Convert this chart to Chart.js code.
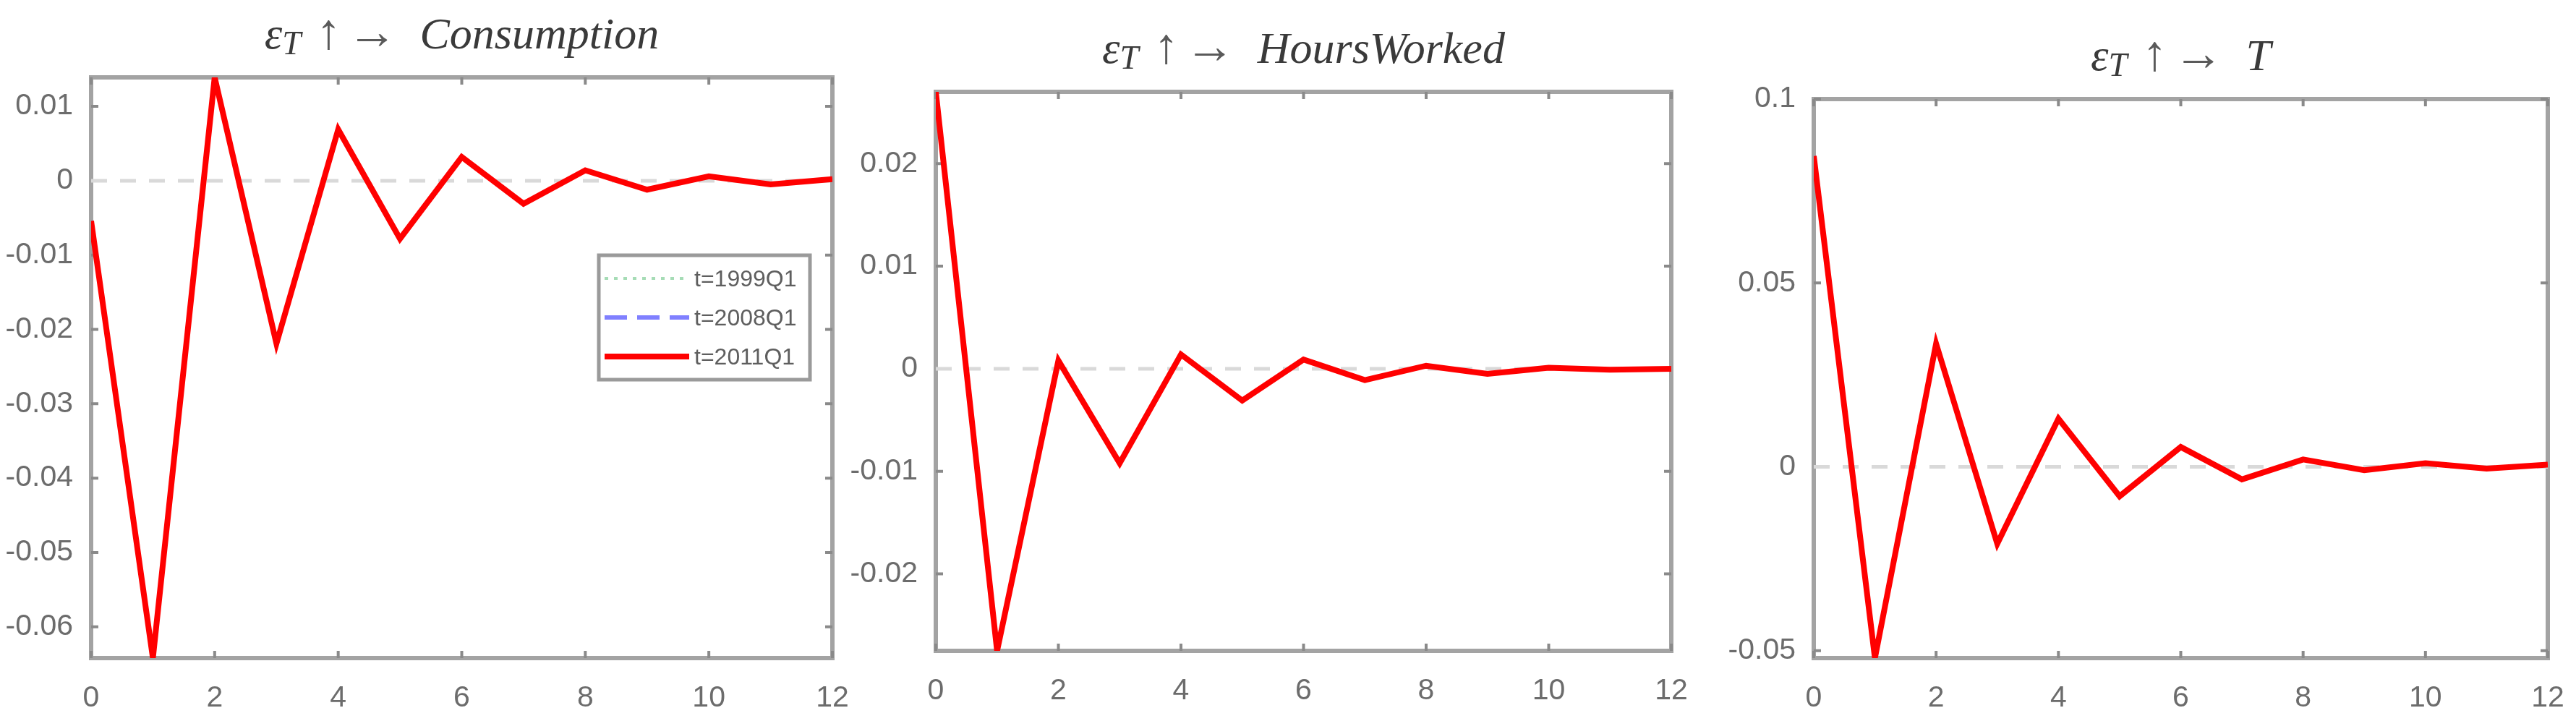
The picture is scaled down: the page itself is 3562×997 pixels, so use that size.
<!DOCTYPE html>
<html>
<head>
<meta charset="utf-8">
<script src="https://cdn.jsdelivr.net/npm/chart.js@4.4.0/dist/chart.umd.min.js"></script>
<style>
  html, body { margin: 0; padding: 0; background: #fff; }
  #page { position: relative; width: 3562px; height: 997px; overflow: hidden; background: #fff; }
  #page canvas { position: absolute; top: 0; }
  .title {
    position: absolute; white-space: nowrap;
    font-family: "Liberation Serif", "DejaVu Serif", serif;
    font-size: 62px; line-height: 62px; color: #3a3a3a;
    transform: translateX(-50%);
  }
  .title .eps { font-style: italic; }
  .title sub { font-size: 0.75em; font-style: italic; vertical-align: -0.18em; line-height: 0; }
  .title .arr { color: #5a5a5a; font-size: 1.12em; line-height: 0; }
  .title .up { margin-left: 0.3em; }
  .title .right { margin-left: 0.12em; }
  .title .name { font-style: italic; margin-left: 0.5em; }
</style>
</head>
<body>
<div id="page">
  <canvas id="c1" width="1200" height="997" style="left:0px"></canvas>
  <canvas id="c2" width="1220" height="997" style="left:1160px"></canvas>
  <canvas id="c3" width="1192" height="997" style="left:2370px"></canvas>
  <div class="title" id="t1"><span class="eps">ε<sub>T</sub></span><span class="arr up">↑</span><span class="arr right">→</span><span class="name">Consumption</span></div>
  <div class="title" id="t2"><span class="eps">ε<sub>T</sub></span><span class="arr up">↑</span><span class="arr right">→</span><span class="name">HoursWorked</span></div>
  <div class="title" id="t3"><span class="eps">ε<sub>T</sub></span><span class="arr up">↑</span><span class="arr right">→</span><span class="name">T</span></div>
</div>
<script>
// quarters after the shock
const horizon           = [0, 1, 2, 3, 4, 5, 6, 7, 8, 9, 10, 11, 12];
const horizonTicks      = [0, 2, 4, 6, 8, 10, 12];
const horizonTickLabels = ["0", "2", "4", "6", "8", "10", "12"];

const seriesLabels = ["t=1999Q1", "t=2008Q1", "t=2011Q1"];

// responses (the three vintages lie on top of each other in the figure)
const consumption           = [-0.0054, -0.0642, 0.0139, -0.0219, 0.0069, -0.0078, 0.0032, -0.0031, 0.0014, -0.0012, 0.0006, -0.0005, 0.0002];
const consumptionRange      = [-0.0642, 0.0139];
const consumptionTicks      = [-0.06, -0.05, -0.04, -0.03, -0.02, -0.01, 0, 0.01];
const consumptionTickLabels = ["-0.06", "-0.05", "-0.04", "-0.03", "-0.02", "-0.01", "0", "0.01"];

const hoursWorked     = [0.0270, -0.0275, 0.0008, -0.0092, 0.0014, -0.0031, 0.0009, -0.0011, 0.0003, -0.0005, 0.0001, -0.0001, 0.0000];
const hoursRange      = [-0.0275, 0.0270];
const hoursTicks      = [-0.02, -0.01, 0, 0.01, 0.02];
const hoursTickLabels = ["-0.02", "-0.01", "0", "0.01", "0.02"];

const transfers           = [0.0845, -0.0520, 0.0335, -0.0209, 0.0131, -0.0080, 0.0054, -0.0034, 0.0020, -0.0009, 0.0010, -0.0005, 0.0006];
const transfersRange      = [-0.052, 0.1];
const transfersTicks      = [-0.05, 0, 0.05, 0.1];
const transfersTickLabels = ["-0.05", "0", "0.05", "0.1"];

const tickFont  = { family: "'Liberation Sans Narrow', 'Liberation Sans', Arial, sans-serif", size: 41 };
const tickColor = "#6c6c6c";

// box + inward ticks like a matlab axes
const framePlugin = {
  id: "frame",
  beforeDatasetsDraw(chart) {
    const { ctx, chartArea: a, scales: { x, y } } = chart;
    const len = 10;
    ctx.save();
    ctx.strokeStyle = "#a3a3a3";
    ctx.lineWidth = 6;
    ctx.strokeRect(a.left, a.top, a.right - a.left, a.bottom - a.top);
    ctx.strokeStyle = "#8a8a8a";
    ctx.lineWidth = 4;
    ctx.beginPath();
    x.ticks.forEach(t => {
      const px = x.getPixelForValue(t.value);
      ctx.moveTo(px, a.bottom); ctx.lineTo(px, a.bottom - len);
      ctx.moveTo(px, a.top);    ctx.lineTo(px, a.top + len);
    });
    y.ticks.forEach(t => {
      const py = y.getPixelForValue(t.value);
      ctx.moveTo(a.left, py);  ctx.lineTo(a.left + len, py);
      ctx.moveTo(a.right, py); ctx.lineTo(a.right - len, py);
    });
    ctx.stroke();
    ctx.restore();
  }
};

// legend box inside the first panel
const boxLegend = {
  id: "boxLegend",
  afterDatasetsDraw(chart) {
    const { ctx, chartArea: a } = chart;
    const w = 292, h = 172;
    const left = a.right - 31 - w;
    const top  = a.top + 246;
    ctx.save();
    ctx.fillStyle = "#fff";
    ctx.fillRect(left, top, w, h);
    ctx.strokeStyle = "#9a9a9a";
    ctx.lineWidth = 5;
    ctx.strokeRect(left, top, w, h);
    const items = chart.data.datasets.filter(d => seriesLabels.includes(d.label));
    items.forEach((d, i) => {
      const yy = top + 32 + i * 54;
      ctx.strokeStyle = d.borderColor;
      ctx.lineWidth = d.borderWidth;
      ctx.setLineDash(d.borderDash || []);
      ctx.beginPath();
      ctx.moveTo(left + 8, yy);
      ctx.lineTo(left + 125, yy);
      ctx.stroke();
      ctx.setLineDash([]);
      ctx.fillStyle = "#5e5e5e";
      ctx.font = "32px 'Liberation Sans', Arial, sans-serif";
      ctx.textAlign = "left";
      ctx.textBaseline = "middle";
      ctx.fillText(d.label, left + 132, yy + 2);
    });
    ctx.restore();
  }
};

const panels = [
  { canvas: "c1", title: "t1", values: consumption, range: consumptionRange, ticks: consumptionTicks, labels: consumptionTickLabels,
    axisWidth: 126, padRight: 49, padTop: 107, padBottom: 0, legend: true },
  { canvas: "c2", title: "t2", values: hoursWorked, range: hoursRange, ticks: hoursTicks, labels: hoursTickLabels,
    axisWidth: 134, padRight: 69, padTop: 127, padBottom: 10, legend: false },
  { canvas: "c3", title: "t3", values: transfers, range: transfersRange, ticks: transfersTicks, labels: transfersTickLabels,
    axisWidth: 138, padRight: 39, padTop: 137, padBottom: 0, legend: false }
];

panels.forEach(p => {
  const canvas = document.getElementById(p.canvas);
  const points = horizon.map((h, i) => ({ x: h, y: p.values[i] }));

  const chart = new Chart(canvas, {
    type: "line",
    data: {
      datasets: [
        { label: seriesLabels[0], data: points, borderColor: "#a6dcb6", borderWidth: 4, borderDash: [5, 8], pointRadius: 0, order: 2 },
        { label: seriesLabels[1], data: points, borderColor: "#8080ff", borderWidth: 6, borderDash: [31, 14], pointRadius: 0, order: 1 },
        { label: seriesLabels[2], data: points, borderColor: "#ff0000", borderWidth: 8, pointRadius: 0, order: 0 },
        { label: "zero", data: [{ x: horizon[0], y: 0 }, { x: horizon[horizon.length - 1], y: 0 }],
          borderColor: "#d9d9d9", borderWidth: 5, borderDash: [22, 18], pointRadius: 0, order: 3 }
      ]
    },
    options: {
      responsive: false,
      animation: false,
      devicePixelRatio: 1,
      layout: { padding: { left: 0, right: p.padRight, top: p.padTop, bottom: p.padBottom } },
      plugins: {
        legend: { display: false },
        tooltip: { enabled: false },
        title: { display: false }
      },
      scales: {
        x: {
          type: "linear",
          min: horizon[0],
          max: horizon[horizon.length - 1],
          grid: { display: false },
          border: { display: false },
          afterBuildTicks: s => { s.ticks = horizonTicks.map(v => ({ value: v })); },
          // fixed height, and no extra room asked for the end labels
          afterFit: s => { s.height = 87; s.paddingLeft = 0; s.paddingRight = 0; },
          ticks: {
            padding: 23, color: tickColor, font: tickFont,
            maxRotation: 0, autoSkip: false,
            callback: (v, i) => horizonTickLabels[i]
          }
        },
        y: {
          type: "linear",
          min: p.range[0],
          max: p.range[1],
          grid: { display: false },
          border: { display: false },
          afterBuildTicks: s => { s.ticks = p.ticks.map(v => ({ value: v })); },
          afterFit: s => { s.width = p.axisWidth; s.paddingTop = 0; s.paddingBottom = 0; },
          ticks: {
            padding: 17, color: tickColor, font: tickFont,
            callback: (v, i) => p.labels[i]
          }
        }
      }
    },
    plugins: p.legend ? [framePlugin, boxLegend] : [framePlugin]
  });

  // title sits ~40px above the axes box
  const a = chart.chartArea;
  const t = document.getElementById(p.title);
  t.style.left = (canvas.offsetLeft + (a.left + a.right) / 2) + "px";
  t.style.top  = (a.top - 40 - 52) + "px";
});
</script>
</body>
</html>
